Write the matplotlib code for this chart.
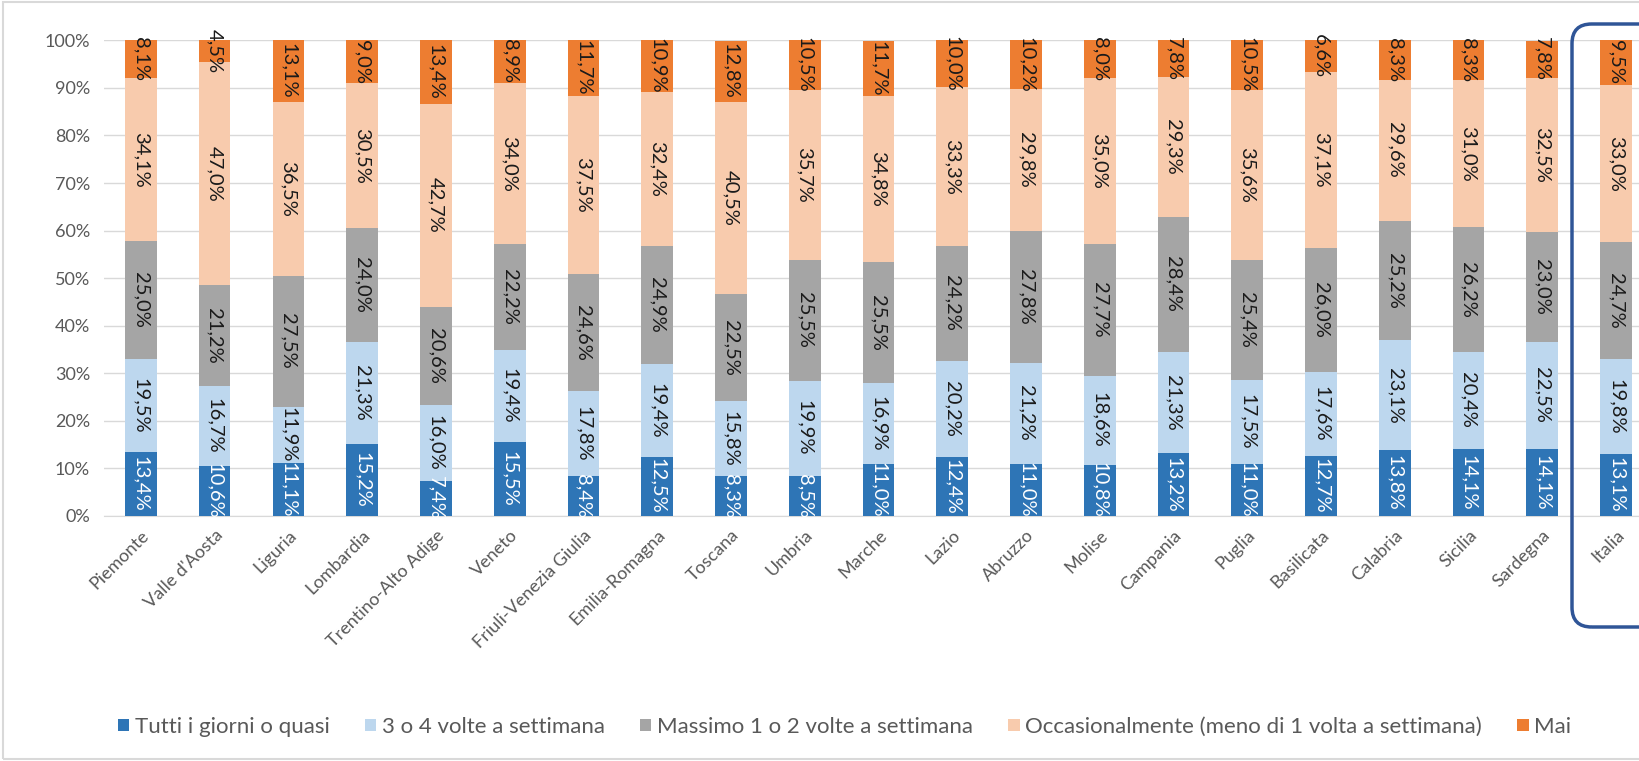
import matplotlib
matplotlib.use("Agg")
import matplotlib.pyplot as plt
from matplotlib.patches import FancyBboxPatch, Rectangle
from matplotlib.ticker import PercentFormatter
import numpy as np

plt.rcParams['font.family'] = ['Lato', 'DejaVu Sans']

regions = ["Piemonte", "Valle d'Aosta", "Liguria", "Lombardia", "Trentino-Alto Adige",
           "Veneto", "Friuli-Venezia Giulia", "Emilia-Romagna", "Toscana", "Umbria",
           "Marche", "Lazio", "Abruzzo", "Molise", "Campania", "Puglia", "Basilicata",
           "Calabria", "Sicilia", "Sardegna", "Italia"]

tutti = [13.4, 10.6, 11.1, 15.2, 7.4, 15.5, 8.4, 12.5, 8.3, 8.5, 11.0, 12.4, 11.0, 10.8, 13.2, 11.0, 12.7, 13.8, 14.1, 14.1, 13.1]
tre_quattro = [19.5, 16.7, 11.9, 21.3, 16.0, 19.4, 17.8, 19.4, 15.8, 19.9, 16.9, 20.2, 21.2, 18.6, 21.3, 17.5, 17.6, 23.1, 20.4, 22.5, 19.8]
massimo = [25.0, 21.2, 27.5, 24.0, 20.6, 22.2, 24.6, 24.9, 22.5, 25.5, 25.5, 24.2, 27.8, 27.7, 28.4, 25.4, 26.0, 25.2, 26.2, 23.0, 24.7]
occasion = [34.1, 47.0, 36.5, 30.5, 42.7, 34.0, 37.5, 32.4, 40.5, 35.7, 34.8, 33.3, 29.8, 35.0, 29.3, 35.6, 37.1, 29.6, 31.0, 32.5, 33.0]
mai = [8.1, 4.5, 13.1, 9.0, 13.4, 8.9, 11.7, 10.9, 12.8, 10.5, 11.7, 10.0, 10.2, 8.0, 7.8, 10.5, 6.6, 8.3, 8.3, 7.8, 9.5]

series_names = ["Tutti i giorni o quasi", "3 o 4 volte a settimana", "Massimo 1 o 2 volte a settimana",
                "Occasionalmente (meno di 1 volta a settimana)", "Mai"]
series = [tutti, tre_quattro, massimo, occasion, mai]
colors = ["#2E75B6", "#BDD7EE", "#A5A5A5", "#F8CBAD", "#ED7D31"]
text_colors = ["white", "#1a1a1a", "#1a1a1a", "#1a1a1a", "#1a1a1a"]

fig = plt.figure(figsize=(16.4, 7.61), dpi=100)
# chart border
fig.patches.append(Rectangle((0.002, 0.002), 1.2, 0.996, transform=fig.transFigure,
                             fill=False, edgecolor="#D9D9D9", linewidth=1.5))
ax = fig.add_axes([0.0634, 0.322, 0.9445, 0.625])

x = np.arange(len(regions))
bottom = np.zeros(len(regions))
width = 0.43
for vals, col, tc, name in zip(series, colors, text_colors, series_names):
    v = np.array(vals) / 100.0
    ax.bar(x, v, width, bottom=bottom, color=col, label=name, zorder=3)
    for xi, b, h, raw in zip(x, bottom, v, vals):
        ax.text(xi, b + h / 2, f"{raw:.1f}%".replace(".", ","), rotation=-90,
                ha="center", va="center", fontsize=14.5, color=tc, zorder=4)
    bottom += v

ax.set_xlim(-0.5, len(regions) - 0.5)
ax.set_ylim(0, 1)
ax.set_yticks(np.arange(0, 1.01, 0.1))
ax.yaxis.set_major_formatter(PercentFormatter(1.0, decimals=0))
ax.grid(axis="y", color="#D9D9D9", linewidth=1, zorder=0)
for s in ax.spines.values():
    s.set_visible(False)
ax.spines["bottom"].set_visible(True)
ax.spines["bottom"].set_color("#D9D9D9")
ax.tick_params(axis="both", length=0, colors="#595959", labelsize=13)
ax.tick_params(axis="y", pad=10)
ax.tick_params(axis="x", pad=8)
ax.set_xticks(x)
ax.set_xticklabels(regions, rotation=45, ha="right", rotation_mode="anchor", fontsize=13)

# highlight box around Italia
fig.patches.append(FancyBboxPatch((1572 / 1640, 1 - 627 / 761), 0.1, (627 - 24) / 761,
                                  boxstyle="round,pad=0,rounding_size=0.012",
                                  transform=fig.transFigure, fill=False,
                                  edgecolor="#2F5597", linewidth=2.5, mutation_aspect=2.15))

handles, labels = ax.get_legend_handles_labels()
fig.legend(handles, labels, loc="center", bbox_to_anchor=(0.515, 1 - 727 / 761), ncol=5,
           frameon=False, fontsize=16, labelcolor="#595959", handlelength=0.5,
           handleheight=0.5, handletextpad=0.25, columnspacing=1.6)

fig.savefig("out.png", dpi=100)
